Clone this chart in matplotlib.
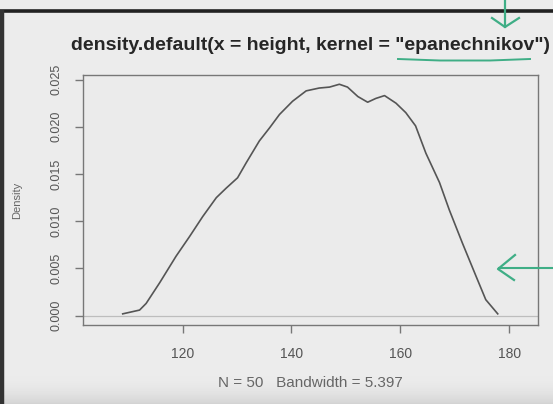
import numpy as np
import matplotlib
matplotlib.use("Agg")
import matplotlib.pyplot as plt

# kernel density estimate of height (epanechnikov kernel), read off at sample points
height_x = [109.0, 112.1, 113.3, 115.8, 118.8, 121.3, 123.7, 126.2, 128.0,
            130.1, 131.7, 134.1, 136.0, 137.8, 140.2, 142.7, 145.1, 147.0, 148.8,
            150.3, 152.2, 154.0, 155.5, 157.1, 159.2, 161.0, 162.8, 164.7, 167.2,
            169.0, 171.4, 173.9, 175.7, 177.9]
density_y = [0.0002, 0.0006, 0.0013, 0.0035, 0.0063, 0.0084, 0.0105, 0.0125, 0.0135,
             0.0146, 0.0162, 0.0185, 0.0199, 0.0213, 0.0227, 0.0238, 0.0241, 0.0242, 0.0245,
             0.0242, 0.0232, 0.0226, 0.0230, 0.0233, 0.0225, 0.0215, 0.0201, 0.0172, 0.0141,
             0.0112, 0.0077, 0.0042, 0.0017, 0.0002]
# range of the evaluation grid (min - cut*bw, max + cut*bw)
grid_range = [104.8, 182.2]
x_ticks = [120, 140, 160, 180]
y_ticks = [0.000, 0.005, 0.010, 0.015, 0.020, 0.025]
title = 'density.default(x = height, kernel = "epanechnikov")'
subtitle = "N = 50   Bandwidth = 5.397"

W, H = 553, 404
bg = "#ebebeb"
ink = "#555555"
green = "#3fae86"

plt.rcParams["font.family"] = ["Liberation Sans", "DejaVu Sans"]

fig = plt.figure(figsize=(W / 100, H / 100), dpi=100)
fig.patch.set_facecolor(bg)

# backdrop: slight darkening towards the bottom edge
back = fig.add_axes([0, 0, 1, 1], zorder=-10)
grad = np.ones((H, 1)) * 0.922
ramp = np.linspace(0, 1, 30)
grad[-30:, 0] = 0.922 - 0.09 * ramp ** 2
back.imshow(grad, cmap="gray", vmin=0, vmax=1, aspect="auto", extent=[0, W, H, 0])
back.set_xlim(0, W)
back.set_ylim(H, 0)
back.axis("off")

# dark frame along the top and left edge
back.plot([0, W], [10.5, 10.5], color="#222222", lw=2.6, solid_capstyle="butt")
back.plot([1.5, 1.5], [10, H], color="#333333", lw=3.2, solid_capstyle="butt")

ax = fig.add_axes([83 / W, 1 - 325 / H, 455 / W, 250 / H])
ax.set_facecolor(bg)
ax.plot(height_x, density_y, color=ink, lw=1.2)
ax.axhline(0, color="#bdbdbd", lw=0.9, zorder=0)

xmin, xmax = grid_range
xr = xmax - xmin
ax.set_xlim(xmin - 0.04 * xr, xmax + 0.04 * xr)
ymax = max(density_y)
ax.set_ylim(-0.04 * ymax, ymax * 1.04)

ax.set_xticks(x_ticks)
ax.set_xticklabels([str(t) for t in x_ticks])
ax.set_yticks(y_ticks)
ax.set_yticklabels(["%.3f" % t for t in y_ticks], rotation=90, va="center")
for s in ax.spines.values():
    s.set_color("#777777")
    s.set_linewidth(1.0)
ax.tick_params(axis="both", colors="#777777", labelcolor="#555555",
               length=6, width=1.0)
ax.tick_params(axis="x", pad=10, labelsize=10)
ax.tick_params(axis="y", pad=9, labelsize=9)

fig.text(17 / W, 1 - 200 / H, "Density", rotation=90, ha="center", va="center",
         fontsize=8, color="#666666")
fig.text(310 / W, 1 - 45 / H, title, ha="center", va="center",
         fontsize=14, fontweight="bold", color="#262626")
fig.text(310 / W, 1 - 383 / H, subtitle, ha="center", va="center",
         fontsize=11, color="#666666")

# green pen marks, drawn over everything
pen = fig.add_axes([0, 0, 1, 1], zorder=10)
pen.set_xlim(0, W)
pen.set_ylim(H, 0)
pen.axis("off")
pen.patch.set_alpha(0)
pen.plot([505, 505], [0, 27], color=green, lw=1.6)
pen.plot([492, 505, 519], [18, 27, 18], color=green, lw=1.6)
pen.plot([398, 440, 490, 530], [59, 60.5, 60.5, 59], color=green, lw=1.4)
pen.plot([553, 499], [268, 268], color=green, lw=1.5)
pen.plot([515, 498, 514], [255, 269, 280], color=green, lw=1.6)

fig.savefig("out.png", dpi=100, facecolor=bg)
